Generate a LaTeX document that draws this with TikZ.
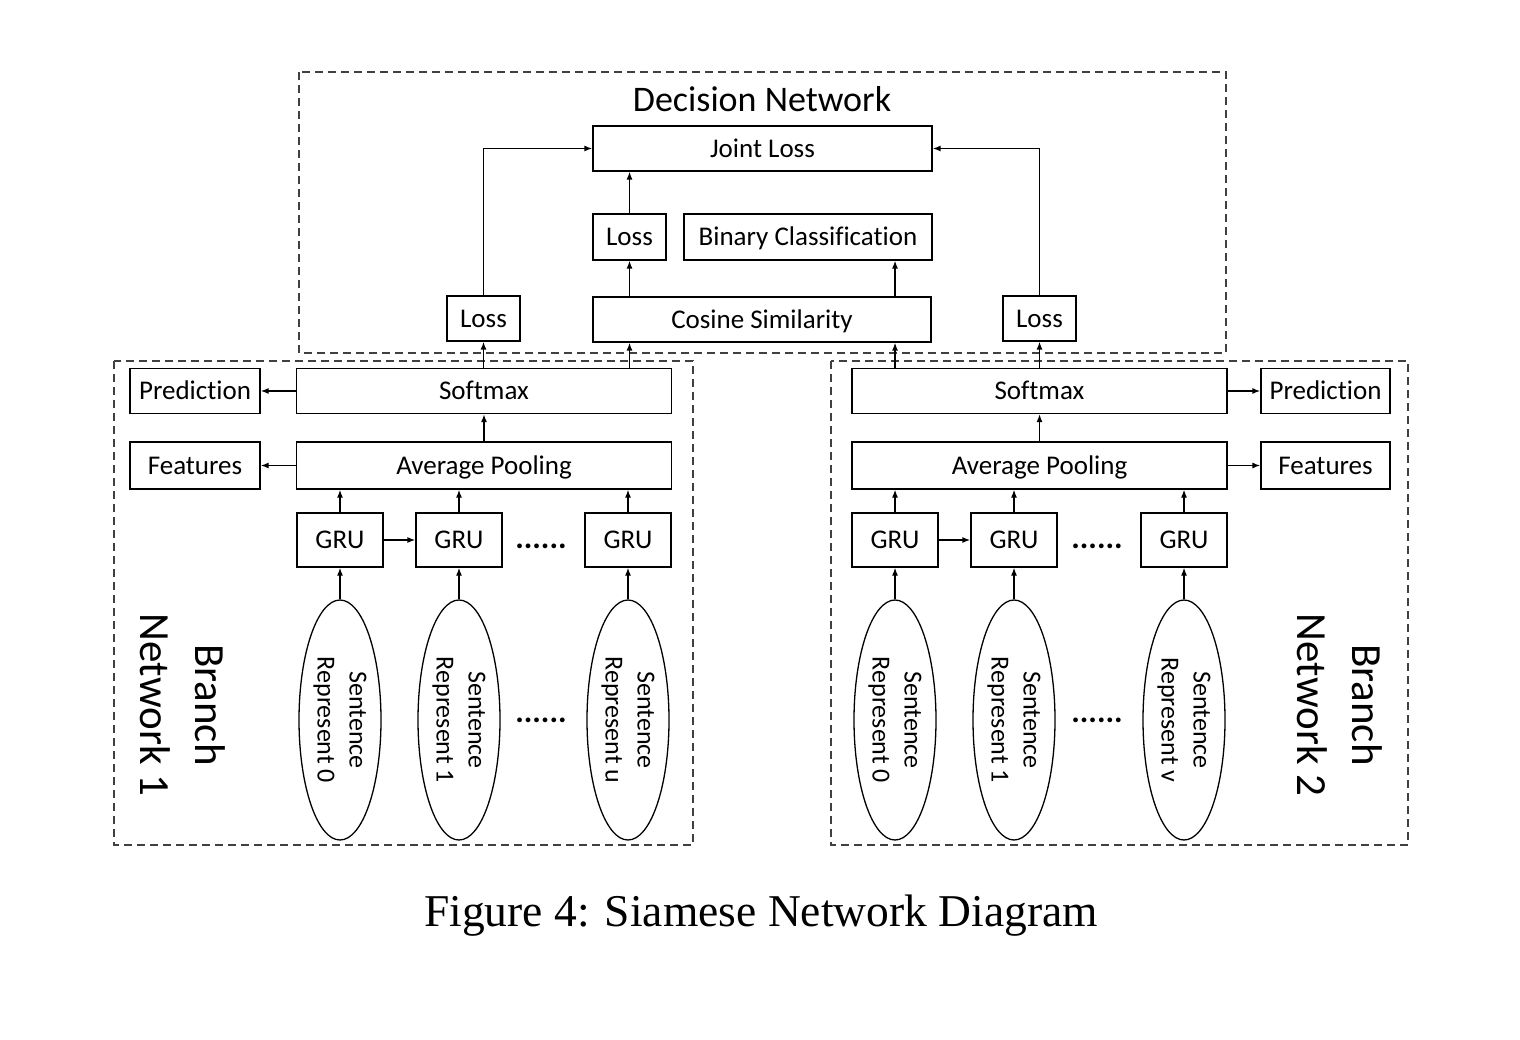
\documentclass[tikz,border=0pt]{standalone}
\usepackage{fontspec}
\setmainfont[Ligatures=NoCommon]{Carlito}
\newfontfamily\capfont{Liberation Serif}
\usetikzlibrary{shapes.geometric,arrows.meta}
\tikzset{
  box/.style={draw, line width=1.3pt, minimum height=45pt, inner sep=0pt, text height=19pt, text depth=1.6pt, font=\fontsize{27}{32}\selectfont},
  sent/.style={draw, ellipse, line width=1.3pt, rotate=-90, minimum width=240pt, minimum height=82pt, inner sep=0pt, align=center, font=\fontsize{26}{32}\selectfont},
  frame/.style={draw=black!75, line width=1.3pt, dash pattern=on 8pt off 5pt},
  conn/.style={-{Latex[length=8pt,width=6pt]}, line width=1.3pt},
  dots/.style={font=\bfseries\fontsize{32}{34}\selectfont},
}
\begin{document}
\begin{tikzpicture}[x=1pt, y=-1pt]
  \useasboundingbox (0,0) rectangle (1520,1040);

  % Frames
  \draw[frame] (299,72) rectangle (1226,353);
  \draw[frame] (114,361) rectangle (693,845);
  \draw[frame] (831,361) rectangle (1408,845);

  % Decision network
  \node[font=\fontsize{36}{40}\selectfont] (dtitle) at (762,99) {Decision Network};
  \node[box, minimum width=339pt] (joint) at (762.5,148.5) {Joint Loss};
  \node[box, minimum width=73pt, minimum height=46pt] (lossm) at (629.5,237) {Loss};
  \node[box, minimum width=248pt, minimum height=46pt] (bin) at (808,237) {Binary Classification};
  \node[box, minimum width=338pt] (cos) at (762,319.5) {Cosine Similarity};
  \node[box, minimum width=73pt] (loss1) at (483.5,318.5) {Loss};
  \node[box, minimum width=73pt] (loss2) at (1039.5,318.5) {Loss};

  % Branch network 1
  \node[box, minimum width=375pt] (sm1) at (484,391) {Softmax};
  \node[box, minimum width=130pt] (pred1) at (195,391) {Prediction};
  \node[box, minimum width=375pt, minimum height=47pt] (ap1) at (484,465.5) {Average Pooling};
  \node[box, minimum width=130pt, minimum height=47pt] (feat1) at (195,465.5) {Features};
  \node[box, minimum width=86pt, minimum height=54pt] (g11) at (340,540) {GRU};
  \node[box, minimum width=86pt, minimum height=54pt] (g12) at (459,540) {GRU};
  \node[box, minimum width=86pt, minimum height=54pt] (g13) at (628,540) {GRU};
  \node[dots] (d11) at (541,546) {......};
  \node[sent] (s11) at (340,720) {Sentence\\Represent 0};
  \node[sent] (s12) at (459,720) {Sentence\\Represent 1};
  \node[sent] (s13) at (628,720) {Sentence\\Represent u};
  \node[dots] (d12) at (541,720) {......};
  \node[rotate=-90, align=center, font=\fontsize{43}{55}\selectfont] (br1) at (183,705) {Branch\\Network 1};

  % Branch network 2
  \node[box, minimum width=375pt] (sm2) at (1039.5,391) {Softmax};
  \node[box, minimum width=129pt] (pred2) at (1325.5,391) {Prediction};
  \node[box, minimum width=375pt, minimum height=47pt] (ap2) at (1039.5,465.5) {Average Pooling};
  \node[box, minimum width=129pt, minimum height=47pt] (feat2) at (1325.5,465.5) {Features};
  \node[box, minimum width=86pt, minimum height=54pt] (g21) at (895,540) {GRU};
  \node[box, minimum width=86pt, minimum height=54pt] (g22) at (1014,540) {GRU};
  \node[box, minimum width=86pt, minimum height=54pt] (g23) at (1184,540) {GRU};
  \node[dots] (d21) at (1097,546) {......};
  \node[sent] (s21) at (895,720) {Sentence\\Represent 0};
  \node[sent] (s22) at (1014,720) {Sentence\\Represent 1};
  \node[sent] (s23) at (1184,720) {Sentence\\Represent v};
  \node[dots] (d22) at (1097,720) {......};
  \node[rotate=-90, align=center, font=\fontsize{43}{55}\selectfont] (br2) at (1340,705) {Branch\\Network 2};

  % Caption
  \node[font=\capfont\fontsize{45.5}{50}\selectfont] (cap) at (761,916) {Figure 4: Siamese Network Diagram};

  % Connectors in branches
  \foreach \b in {1,2} {
    \foreach \i in {1,2,3} {
      \draw[conn] (s\b\i.west) -- (g\b\i.south);
      \draw[conn] (g\b\i.north) -- (g\b\i.north |- ap\b.south);
    }
    \draw[conn] (g\b1.east) -- (g\b2.west);
    \draw[conn] (ap\b.north) -- (sm\b.south);
  }
  \draw[conn] (sm1.west) -- (pred1.east);
  \draw[conn] (ap1.west) -- (feat1.east);
  \draw[conn] (sm2.east) -- (pred2.west);
  \draw[conn] (ap2.east) -- (feat2.west);

  % Connectors up to decision network
  \draw[conn] (sm1.north -| loss1.south) -- (loss1.south);
  \draw[conn] (sm1.north -| lossm.south) -- (cos.south -| lossm.south);
  \draw[conn] (sm2.north -| g21.north) -- (cos.south -| g21.north);
  \draw[conn] (sm2.north -| loss2.south) -- (loss2.south);
  \draw[conn] (cos.north -| lossm.south) -- (lossm.south);
  \draw[conn] (cos.north -| g21.north) -- (bin.south -| g21.north);
  \draw[conn] (lossm.north) -- (lossm.north |- joint.south);
  \draw[conn] (loss1.north) |- (joint.west);
  \draw[conn] (loss2.north) |- (joint.east);
\end{tikzpicture}
\end{document}
